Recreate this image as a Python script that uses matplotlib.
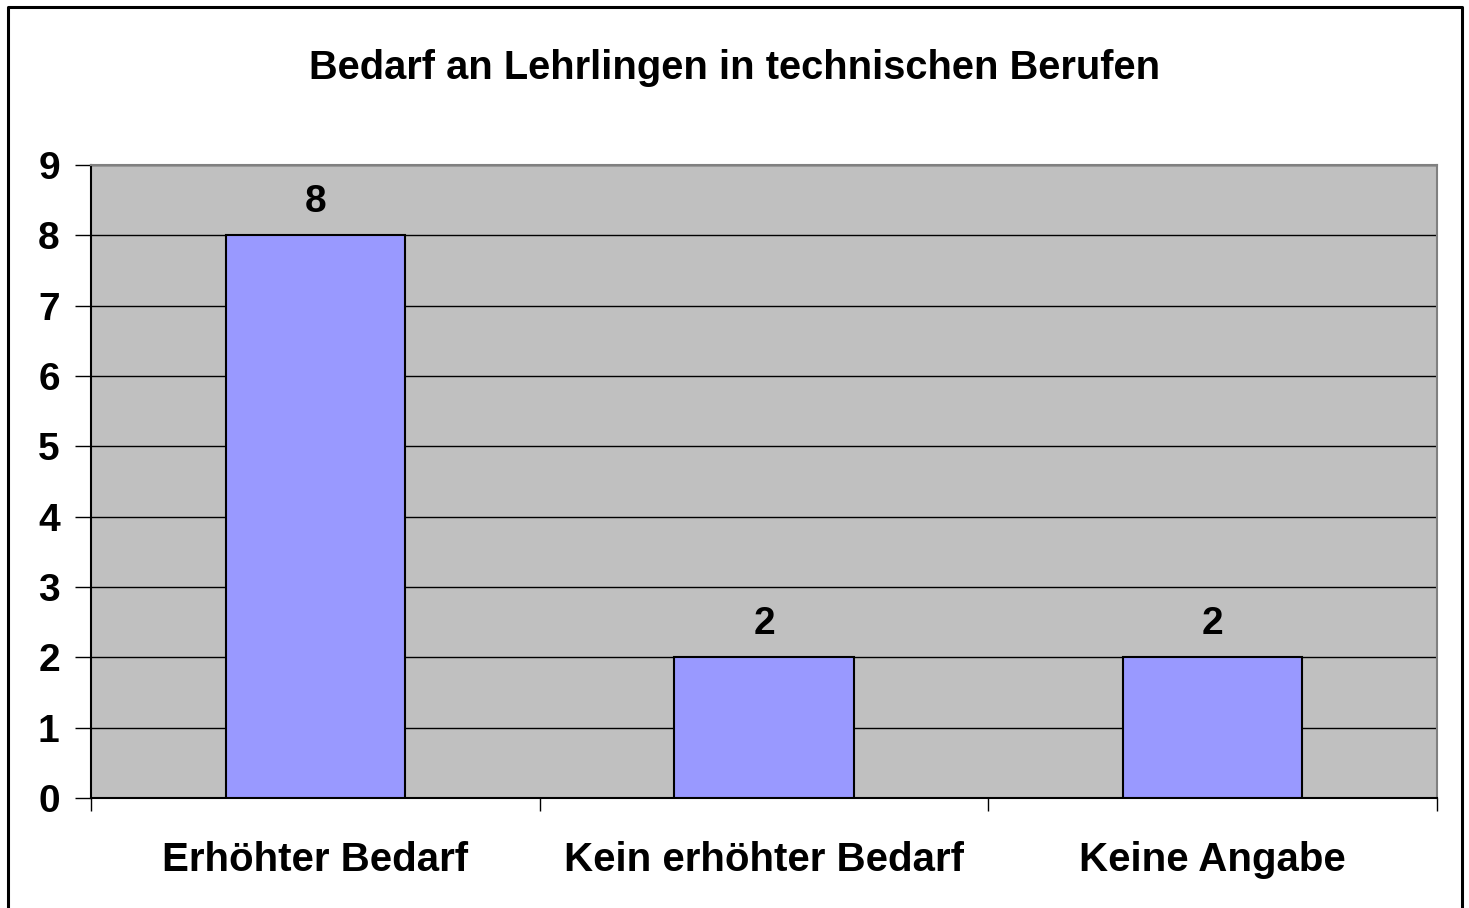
import matplotlib
matplotlib.use("Agg")
import matplotlib.pyplot as plt
from matplotlib.lines import Line2D
import numpy as np

categories = ["Erhöhter Bedarf", "Kein erhöhter Bedarf", "Keine Angabe"]
values = [8, 2, 2]
y_ticks = list(range(0, 10))
title = "Bedarf an Lehrlingen in technischen Berufen"

W, H = 1469, 908
plt.rcParams["font.family"] = ["Liberation Sans", "DejaVu Sans"]
plt.rcParams["font.weight"] = "bold"

fig = plt.figure(figsize=(W / 100, H / 100), dpi=100)
ax = fig.add_axes([91 / W, (H - 798) / H, (1437 - 91) / W, (798 - 165) / H])
ax.set_facecolor("#C0C0C0")

x = np.arange(len(categories))
ax.set_axisbelow(True)
ax.yaxis.grid(True, color="#000000", linewidth=1.0)
bars = ax.bar(x, values, width=0.4, color="#9999FF", edgecolor="black", linewidth=1.5, zorder=3)

for b, v in zip(bars, values):
    ax.annotate(str(v), (b.get_x() + b.get_width() / 2, v), xytext=(0, 11),
                textcoords="offset points", ha="center", va="bottom",
                fontsize=28, fontweight="bold")

ax.set_xlim(-0.5, len(categories) - 0.5)
ax.set_ylim(0, 9)
ax.set_yticks(y_ticks)
ax.tick_params(axis="y", labelsize=28, length=11.5, width=1, pad=11, direction="out")
ax.set_xticks(x)
ax.set_xticklabels(categories)
ax.tick_params(axis="x", which="major", labelsize=29, length=0, pad=31)
ax.set_xticks(np.arange(len(categories) + 1) - 0.5, minor=True)
ax.tick_params(axis="x", which="minor", length=9.5, width=1, direction="out")

for side in ("top", "right"):
    ax.spines[side].set_color("#808080")
    ax.spines[side].set_linewidth(1.5)
for side in ("left", "bottom"):
    ax.spines[side].set_color("black")
    ax.spines[side].set_linewidth(1.5)

fig.text(735 / W, 1 - 68 / H, title, ha="center", va="center",
         fontsize=28.75, fontweight="bold")

# outer chart frame (left, top, right)
fx0, fx1, fy = 7.5 / W, 1462 / W, 1 - 6.5 / H
fig.add_artist(Line2D([fx0, fx0, fx1, fx1], [0, fy, fy, 0], color="black", linewidth=2.2,
                      transform=fig.transFigure))

fig.savefig("out.png", dpi=100)
